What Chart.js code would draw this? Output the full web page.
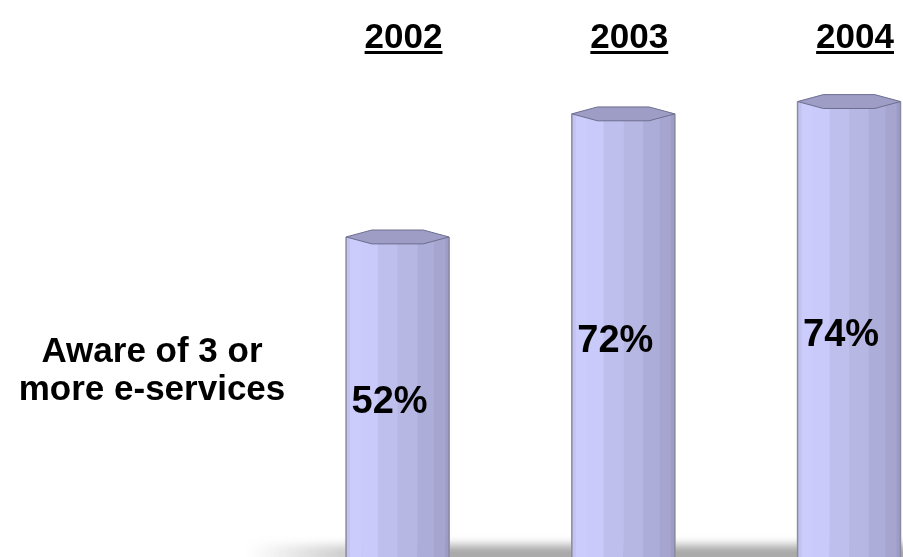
<!DOCTYPE html>
<html>
<head>
<meta charset="utf-8">
<script src="https://cdn.jsdelivr.net/npm/chart.js@4"></script>
<style>
  html, body { margin: 0; padding: 0; background: #fff; overflow: hidden; }
  #wrap { width: 903px; height: 557px; position: relative; }
</style>
</head>
<body>
<div id="wrap"><canvas id="grafico"></canvas></div>
<script>
// dados
const years = [2002, 2003, 2004];
const yearLabels = ['2002', '2003', '2004'];
const aware = [52, 72, 74];
const valueLabels = ['52%', '72%', '74%'];
const rowLabel = ['Aware of 3 or', 'more e-services'];

// tons das faces do cilindro, da esquerda para a direita
const faces = ['#c3c3f0', '#cbcbfc', '#c9c9fa', '#bfbfee', '#b7b7e4', '#adadd9', '#a5a5cf', '#9c9cc6'];

const cylinders = {
  id: 'cylinders',
  beforeDatasetsDraw(chart) {
    const ctx = chart.ctx;
    const area = chart.chartArea;
    const x0 = chart.scales.x.getPixelForValue(years[0]);
    // sombra no chao
    ctx.save();
    const hg = ctx.createLinearGradient(x0 - 150, 0, x0 + 20, 0);
    hg.addColorStop(0, 'rgba(110,110,110,0)');
    hg.addColorStop(1, 'rgba(110,110,110,0.6)');
    ctx.fillStyle = hg;
    ctx.filter = 'blur(5px)';
    ctx.fillRect(x0 - 150, area.bottom - 12, area.right - x0 + 200, 20);
    ctx.restore();
  },
  afterDatasetsDraw(chart) {
    const ctx = chart.ctx;
    const meta = chart.getDatasetMeta(0);
    meta.data.forEach((el, i) => {
      const w = el.width, left = el.x - w / 2, top = el.y, base = el.base;
      const ry = 8;
      ctx.save();
      // faces laterais
      const n = faces.length;
      for (let k = 0; k < n; k++) {
        // largura das faces segue o cosseno, como num cilindro
        const a0 = Math.PI - k * Math.PI / n, a1 = Math.PI - (k + 1) * Math.PI / n;
        const fx0 = el.x + Math.cos(a0) * w / 2, fx1 = el.x + Math.cos(a1) * w / 2;
        ctx.fillStyle = faces[k];
        ctx.fillRect(fx0, top, fx1 - fx0 + 0.5, base - top);
      }
      ctx.strokeStyle = '#8a8aa0';
      ctx.lineWidth = 1.5;
      ctx.beginPath();
      ctx.moveTo(left, top); ctx.lineTo(left, base);
      ctx.moveTo(left + w, top); ctx.lineTo(left + w, base);
      ctx.stroke();
      // tampa (hexagono achatado)
      ctx.beginPath();
      const pts = 6;
      for (let k = 0; k < pts; k++) {
        const a = k * 2 * Math.PI / pts;
        const px = el.x + Math.cos(a) * w / 2, py = top + Math.sin(a) * ry;
        if (k === 0) ctx.moveTo(px, py); else ctx.lineTo(px, py);
      }
      ctx.closePath();
      ctx.fillStyle = '#9d9dc6';
      ctx.fill();
      ctx.strokeStyle = '#6e6e90';
      ctx.lineWidth = 1;
      ctx.stroke();
      // rotulo do valor
      ctx.fillStyle = '#000';
      ctx.font = 'bold 38px "Liberation Sans", Arial, sans-serif';
      ctx.textAlign = 'center';
      ctx.textBaseline = 'middle';
      ctx.fillText(valueLabels[i], el.x - 8, (top + base) / 2 + 6);
      // ano em cima, sublinhado
      ctx.font = 'bold 35px "Liberation Sans", Arial, sans-serif';
      ctx.textBaseline = 'alphabetic';
      ctx.fillText(yearLabels[i], el.x + 6, 48);
      const tw = ctx.measureText(yearLabels[i]).width;
      ctx.fillRect(el.x + 6 - tw / 2, 51, tw, 3);
      ctx.restore();
    });
    // rotulo da linha, a esquerda
    ctx.save();
    ctx.fillStyle = '#000';
    ctx.font = 'bold 35px "Liberation Sans", Arial, sans-serif';
    ctx.textAlign = 'center';
    ctx.fillText(rowLabel[0], 152, 362);
    ctx.fillText(rowLabel[1], 152, 400);
    ctx.restore();
  }
};

const ctx = document.getElementById('grafico');
new Chart(ctx, {
  type: 'bar',
  data: {
    datasets: [{
      label: 'Aware of 3 or more e-services',
      data: years.map((yr, i) => ({ x: yr, y: aware[i] })),
      backgroundColor: 'rgba(0,0,0,0)',
      borderWidth: 0,
      barPercentage: 0.456,
      categoryPercentage: 1
    }]
  },
  options: {
    responsive: true,
    maintainAspectRatio: false,
    animation: false,
    layout: { padding: 0 },
    plugins: { legend: { display: false }, tooltip: { enabled: false } },
    scales: {
      x: {
        type: 'linear', min: 2000.239, max: 2004.239, offset: false, display: false,
        afterBuildTicks: (s) => { s.ticks = years.map(v => ({ value: v })); }
      },
      y: { min: 0, max: 90.5, display: false }
    }
  },
  plugins: [cylinders]
});
</script>
</body>
</html>
